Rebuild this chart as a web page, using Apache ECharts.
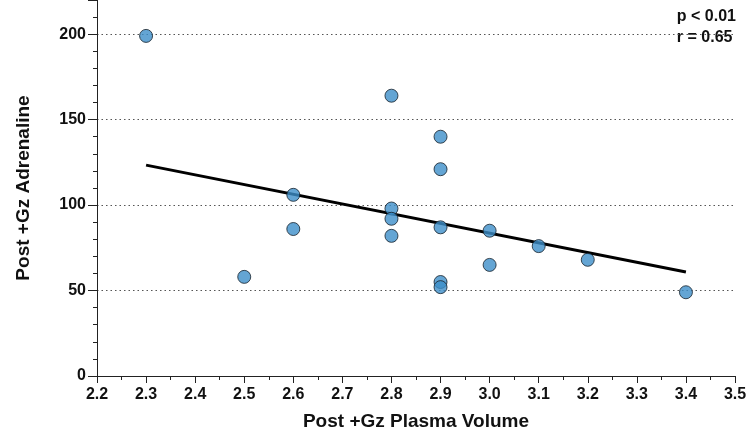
<!DOCTYPE html>
<html><head><meta charset="utf-8">
<script src="https://cdn.jsdelivr.net/npm/echarts@6/dist/echarts.min.js"></script>
<style>html,body{margin:0;padding:0;background:#fff}#c{width:748px;height:429px}</style>
</head><body><div id="c"></div>
<script>
const plasmaVolume = [2.3, 2.5, 2.6, 2.6, 2.8, 2.8, 2.8, 2.8, 2.9, 2.9, 2.9, 2.9, 2.9, 3.0, 3.0, 3.1, 3.2, 3.4];
const adrenaline   = [199, 58, 106, 86, 164, 98, 92, 82, 140, 121, 87, 55, 52, 85, 65, 76, 68, 49];
const fitX = [2.3, 3.4];
const fitY = [123.4, 60.9];
const statsText = ['p < 0.01', 'r = 0.65'];

const chart = echarts.init(document.getElementById('c'));
const font = '"Liberation Sans", Arial, sans-serif';
chart.setOption({
  animation: false,
  grid: {left: 97, right: 13, top: 0, bottom: 53, containLabel: false, outerBoundsMode: 'none'},
  xAxis: {
    type: 'value', min: 2.2, max: 3.5, interval: 0.1,
    name: 'Post +Gz Plasma Volume', nameLocation: 'middle', nameGap: 36,
    nameTextStyle: {fontFamily: font, fontWeight: 'bold', fontSize: 19, color: '#111'},
    axisLine: {show: true, onZero: false, lineStyle: {color: '#222', width: 1}},
    axisTick: {show: true, length: 7, lineStyle: {color: '#222'}},
    minorTick: {show: true, splitNumber: 2, length: 4, lineStyle: {color: '#222'}},
    axisLabel: {fontFamily: font, fontWeight: 'bold', fontSize: 16, color: '#111', margin: 11,
      formatter: v => v.toFixed(1)},
    splitLine: {show: false}
  },
  yAxis: {
    type: 'value', min: 0, max: 220, interval: 50,
    name: 'Post +Gz Adrenaline', nameLocation: 'middle', nameGap: 64,
    nameTextStyle: {fontFamily: font, fontWeight: 'bold', fontSize: 19, color: '#111'},
    axisLine: {show: true, onZero: false, lineStyle: {color: '#222', width: 1}},
    axisTick: {show: true, length: 9, lineStyle: {color: '#222'}},
    minorTick: {show: true, splitNumber: 5, length: 4, lineStyle: {color: '#222'}},
    axisLabel: {fontFamily: font, fontWeight: 'bold', fontSize: 16, color: '#111', margin: 11,
      formatter: v => (v % 50 === 0 ? String(v) : '')},
    splitLine: {show: true, showMinLine: false, showMaxLine: false, lineStyle: {type: [1.5, 3], color: '#555', width: 1.2}}
  },
  series: [
    {
      type: 'line', data: fitX.map((x, i) => [x, fitY[i]]), symbol: 'none',
      lineStyle: {color: '#000', width: 3}, z: 3
    },
    {
      type: 'scatter', data: plasmaVolume.map((x, i) => [x, adrenaline[i]]),
      symbol: 'circle', symbolSize: 13,
      itemStyle: {color: '#3d8ec9', borderColor: '#15202b', borderWidth: 1}, z: 4
    }
  ],
  graphic: [{
    type: 'text', right: 12, top: 6,
    style: {text: statsText.join('\n'), font: 'bold 16px ' + font, fill: '#111', align: 'right', lineHeight: 21}
  }]
});
</script></body></html>
